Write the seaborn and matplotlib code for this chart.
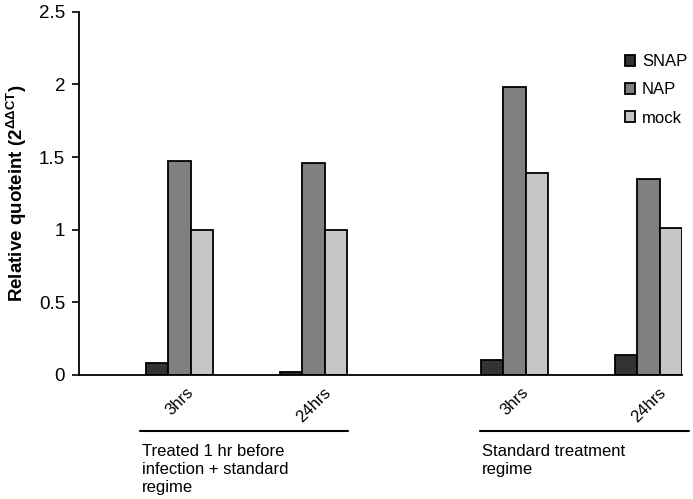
import seaborn as sns
import matplotlib.pyplot as plt
import matplotlib.transforms as mtransforms
import pandas as pd

# values
times = ["3hrs", "24hrs", "3hrs", "24hrs"]
regimes = ["pre", "pre", "std", "std"]
snap = [0.08, 0.02, 0.10, 0.14]
nap = [1.47, 1.46, 1.98, 1.35]
mock = [1.00, 1.00, 1.39, 1.01]
treatments = ["SNAP", "NAP", "mock"]
colors = ["#333333", "#808080", "#c6c6c6"]
group_labels = ["Treated 1 hr before\ninfection + standard\nregime",
                "Standard treatment\nregime"]

sns.set_theme(style="white")
plt.rcParams['font.family'] = ['Liberation Sans', 'DejaVu Sans']
plt.rcParams['mathtext.fontset'] = 'custom'
plt.rcParams['mathtext.rm'] = 'Liberation Sans'
plt.rcParams['mathtext.bf'] = 'Liberation Sans:bold'
for key in ['text.color', 'axes.labelcolor', 'xtick.color', 'ytick.color']:
    plt.rcParams[key] = 'black'

rows = []
for reg, t, a, b, c in zip(regimes, times, snap, nap, mock):
    for name, v in zip(treatments, [a, b, c]):
        rows.append({"slot": reg + " " + t, "treatment": name, "value": v})
df = pd.DataFrame(rows)

# spacer slots reproduce the gaps between the bar groups
order = ["_a", "pre 3hrs", "_b", "pre 24hrs", "_c", "_d", "std 3hrs", "_e", "std 24hrs"]

fig = plt.figure(figsize=(6.93, 4.99), dpi=100)
ax = fig.add_axes([0.114, 0.2485, 0.87, 0.728])
sns.barplot(data=df, x="slot", y="value", hue="treatment", order=order,
            hue_order=treatments, palette=colors, width=1.0,
            edgecolor="black", linewidth=1.3, saturation=1, ax=ax)

ax.set_ylim(0, 2.5)
ax.set_xlim(-0.5, 8.5)
ax.set_yticks([0, 0.5, 1, 1.5, 2, 2.5])
ax.set_yticklabels(["0", "0.5", "1", "1.5", "2", "2.5"], fontsize=13.5)
pos = [order.index(r + " " + t) for r, t in zip(regimes, times)]
ax.set_xticks(pos)
ax.set_xticklabels(times, rotation=45, ha="center", fontsize=12)
ax.tick_params(axis="x", length=0, pad=7)
ax.tick_params(axis="y", direction="out", length=5, width=1.2, left=True, pad=5)
ax.set_xlabel("")
ax.set_ylabel(r"Relative quoteint (2$^{\mathbf{\Delta\Delta CT}}$)",
              fontsize=13.5, fontweight="bold", labelpad=7)
sns.despine(ax=ax)
for s in ["left", "bottom"]:
    ax.spines[s].set_color("black")
    ax.spines[s].set_linewidth(1.3)

# group brackets under the tick labels
trans = mtransforms.blended_transform_factory(ax.transData, ax.transAxes)
for (x0, x1), lab in zip([(0.41, 3.51), (5.49, 8.6)], group_labels):
    ax.plot([x0, x1], [-0.153, -0.153], color="black", lw=1.5,
            transform=trans, clip_on=False)
    ax.text(x0 + 0.03, -0.19, lab, transform=trans, ha="left", va="top",
            fontsize=12, linespacing=1.24)

ax.legend(loc="upper left", bbox_to_anchor=(0.88, 0.925), frameon=False,
          fontsize=12, handlelength=0.65, handleheight=0.65,
          handletextpad=0.4, labelspacing=0.8)

plt.savefig("out.png", dpi=100)
